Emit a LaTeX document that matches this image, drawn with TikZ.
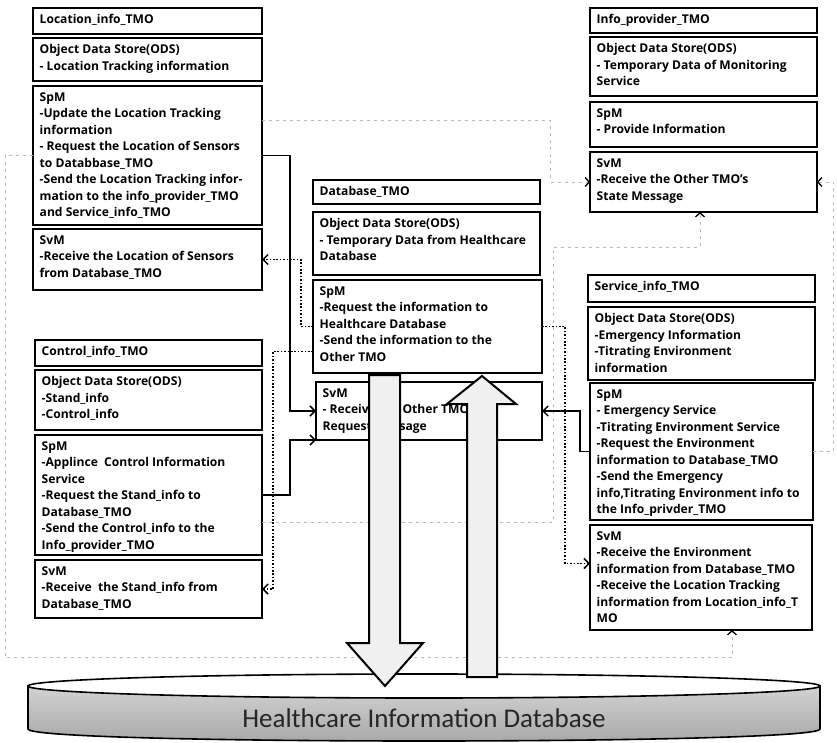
\documentclass[tikz,border=0pt]{standalone}
\usepackage{fontspec}
\setmainfont{Open Sans}
\newfontfamily\dbfont{Carlito}
\usetikzlibrary{arrows.meta}
\tikzset{
  boxst/.style={draw=black, line width=1.6pt, fill=white, inner sep=0pt, outer sep=0pt, anchor=north west},
  txtst/.style={inner sep=0pt, align=left, anchor=north west, font=\fontsize{12.1}{16.5}\selectfont\bfseries},
  solidc/.style={line width=1.6pt, -{Straight Barb[length=5pt,width=10pt,line width=1.5pt]}},
  dotc/.style={line width=1.8pt, dash pattern=on 1.6pt off 1.8pt, -{Straight Barb[length=5pt,width=10pt,line width=1.5pt]}},
  faintc/.style={draw=gray!55, line width=0.6pt, dash pattern=on 3pt off 4pt, -{Straight Barb[black,length=4pt,width=9pt,line width=1.3pt]}},
  bigarrow/.style={draw=black, line width=2pt, fill=gray!12, line join=miter},
}
\newcommand{\tbx}[6]{%
  \node[boxst, minimum width={#4-#2}, minimum height={#5-#3}] (#1) at (#2,#3) {};
  \node[txtst] (#1t) at ({#2+6.5},{#3+6.5}) {#6};
}
\begin{document}
\begin{tikzpicture}[x=1pt,y=-1pt]
\useasboundingbox (0,0) rectangle (837,743);
\fill[white] (0,0) rectangle (837,743);

% Location_info_TMO
\tbx{locT}{33}{8}{262}{34}{Location\_info\_TMO}
\tbx{locODS}{33}{38}{262}{81}{Object Data Store(ODS)\\- Location Tracking information}
\tbx{locSpM}{33}{86}{262}{225}{SpM\\-Update the Location Tracking\\information\\- Request the Location of Sensors\\to Databbase\_TMO\\-Send the Location Tracking infor-\\mation to the info\_provider\_TMO\\and Service\_info\_TMO}
\tbx{locSvM}{33}{229}{262}{290}{SvM\\-Receive the Location of Sensors\\from Database\_TMO}

% Control_info_TMO
\tbx{ctlT}{35}{340}{262}{366}{Control\_info\_TMO}
\tbx{ctlODS}{35}{370}{262}{430}{Object Data Store(ODS)\\-Stand\_info\\-Control\_info}
\tbx{ctlSpM}{35}{435}{262}{555}{SpM\\-Applince\ \ Control Information\\Service\\-Request the Stand\_info to\\Database\_TMO\\-Send the Control\_info to the\\Info\_provider\_TMO}
\tbx{ctlSvM}{35}{560}{262}{618}{SvM\\-Receive\ \ the Stand\_info from\\Database\_TMO}

% Database_TMO
\tbx{dbT}{313}{180}{540}{204}{Database\_TMO}
\tbx{dbODS}{313}{212}{540}{275}{Object Data Store(ODS)\\- Temporary Data from Healthcare\\Database}
\tbx{dbSpM}{313}{280}{542}{373}{SpM\\-Request the information to\\Healthcare Database\\-Send the information to the\\Other TMO}
\tbx{dbSvM}{316}{382}{542}{440}{SvM\\- Receive the Other TMO's\\Request Message}

% Info_provider_TMO
\tbx{infT}{590}{8}{817}{33}{Info\_provider\_TMO}
\tbx{infODS}{590}{37}{817}{96}{Object Data Store(ODS)\\- Temporary Data of Monitoring\\Service}
\tbx{infSpM}{590}{102}{817}{147}{SpM\\- Provide Information}
\tbx{infSvM}{590}{152}{817}{212}{SvM\\-Receive the Other TMO's\\State Message}

% Service_info_TMO
\tbx{svcT}{588}{275}{815}{302}{Service\_info\_TMO}
\tbx{svcODS}{588}{307}{815}{380}{Object Data Store(ODS)\\-Emergency Information\\-Titrating Environment\\information}
\tbx{svcSpM}{590}{383}{813}{520}{SpM\\- Emergency Service\\-Titrating Environment Service\\-Request the Environment\\information to Database\_TMO\\-Send the Emergency\\info,Titrating Environment info to\\the Info\_privder\_TMO}
\tbx{svcSvM}{590}{525}{812}{630}{SvM\\-Receive the Environment\\information from Database\_TMO\\-Receive the Location Tracking\\information from Location\_info\_T\\MO}

% faint dashed connectors
\coordinate (fa) at (553,247);
\coordinate (fb) at (700,247);
\coordinate (fc) at (732,657);
\draw[faintc] ([yshift=35pt]locSpM.east) -- ++(288,0) |- (infSvM.west);
\draw[faintc] (locSpM.west) -- ++(-28,0) |- (fc) -- (fc |- svcSvM.south);
\draw[faintc] ([yshift=-27pt]ctlSpM.east) -| (fa) -- (fb) -- (fb |- infSvM.south);
\draw[faintc] (svcSpM.east) -- ++(20,0) |- (infSvM.east);

% solid connectors
\draw[solidc] (locSpM.east) -- ++(28,0) |- (dbSvM.west);
\draw[solidc] (ctlSpM.east) -- ++(28,0) |- (dbSvM.south west);
\draw[solidc] (svcSpM.west) -- ++(-10,0) |- (dbSvM.east);

% dotted connectors
\draw[dotc] (dbSpM.west) -- ++(-12,0) |- (locSvM.east);
\draw[dotc] ([yshift=-25pt]dbSpM.west) -| ([xshift=11pt]ctlSvM.east) -- (ctlSvM.east);
\draw[dotc] (dbSpM.east) -- ++(23,0) |- ([yshift=14pt]svcSvM.west);

% database cylinder
\shade[top color=gray!35, bottom color=gray!70, draw=black, line width=1.6pt]
  (28,686) -- (28,729) .. controls (28,745) and (820,745) .. (820,729) -- (820,686) -- cycle;
\draw[line width=1.6pt, fill=white] (424,686) ellipse[x radius=396, y radius=12];
\node[font=\dbfont\fontsize{27}{30}\selectfont, text=black!85, inner sep=0pt] (hdb) at (424,718) {Healthcare Information Database};

% big block arrows
\draw[bigarrow] (369,375) -- (400,375) -- (400,643) -- (423,643) -- (385,686) -- (347,643) -- (369,643) -- cycle;
\draw[bigarrow] (467,677) -- (467,404) -- (447,404) -- (482,376) -- (516,404) -- (497,404) -- (497,677) -- cycle;
\end{tikzpicture}
\end{document}
